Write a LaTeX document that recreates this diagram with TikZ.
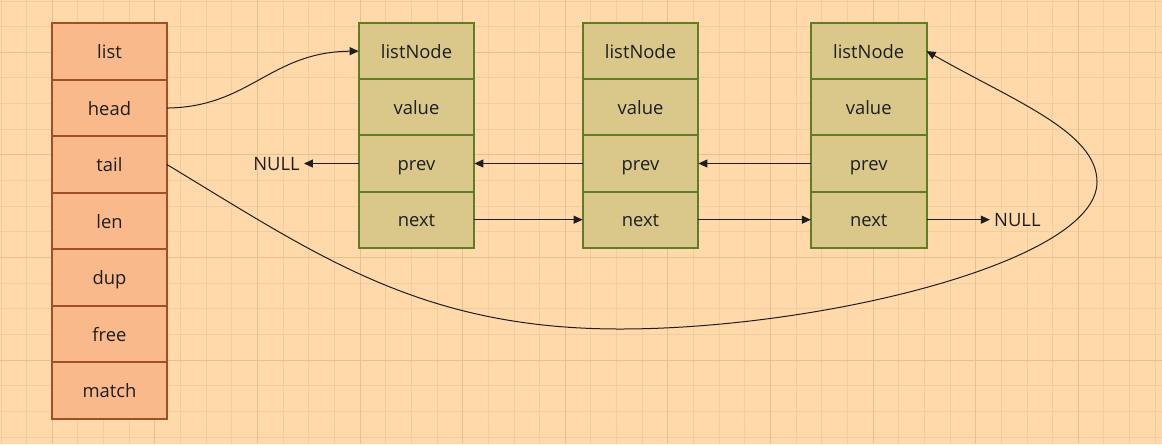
\documentclass[tikz,border=0pt]{standalone}
\usepackage{fontspec}
\setmainfont{Open Sans}
\usetikzlibrary{positioning,arrows.meta}

\definecolor{paper}{RGB}{255,217,169}
\definecolor{gridminor}{RGB}{240,205,160}
\definecolor{gridmajor}{RGB}{228,192,146}
\definecolor{fieldfill}{RGB}{250,185,138}
\definecolor{fieldline}{RGB}{160,80,36}
\definecolor{lnodefill}{RGB}{217,200,138}
\definecolor{lnodeline}{RGB}{96,124,36}
\definecolor{ink}{RGB}{30,30,30}

\begin{document}
\begin{tikzpicture}[x=0.75pt, y=-0.75pt,
                    every node/.style={font=\fontsize{13.8pt}{16pt}\selectfont, text=ink, text height=10.5pt, text depth=0pt},
                    field/.style={fill=fieldfill, minimum width=86.25pt, minimum height=42.4pt, inner sep=0pt, outer sep=0pt},
                    lnode/.style={fill=lnodefill, minimum width=86.8pt, minimum height=42.15pt, inner sep=0pt, outer sep=0pt},
                    frame/.style={line width=1.5pt},
                    link/.style={draw=ink, line width=0.75pt, -{Triangle[length=6.75pt,width=6pt]}}]
% background and grid
\fill[paper] (0,0) rectangle (1162,444);
\useasboundingbox (0,0) rectangle (1162,444);
\foreach \k in {0,...,45}
    \draw[gridminor, line width=0.75pt] ({1+25.65*\k},0) -- ({1+25.65*\k},444);
\foreach \k in {0,...,17}
    \draw[gridminor, line width=0.75pt] (0,{1+25.65*\k}) -- (1162,{1+25.65*\k});
\foreach \k in {2,6,...,42}
    \draw[gridmajor, line width=0.75pt] ({1+25.65*\k},0) -- ({1+25.65*\k},444);
\foreach \k in {2,6,10,14}
    \draw[gridmajor, line width=0.75pt] (0,{1+25.65*\k}) -- (1162,{1+25.65*\k});

% list struct
\node[field] (list) at (109.5,51.5) {list};
\node[field, below=0pt of list] (head) {head};
\node[field, below=0pt of head] (tail) {tail};
\node[field, below=0pt of tail] (len) {len};
\node[field, below=0pt of len] (dup) {dup};
\node[field, below=0pt of dup] (free) {free};
\node[field, below=0pt of free] (match) {match};
\foreach \n in {list,head,tail,len,dup,free,match}
    \draw[frame, fieldline] (\n.south west) rectangle (\n.north east);

% list nodes
\foreach \i/\x in {1/416.5, 2/640.5, 3/868.7}
{
    \node[lnode] (ln\i) at (\x,51.1) {listNode};
    \node[lnode, below=0pt of ln\i] (val\i) {value};
    \node[lnode, below=0pt of val\i] (prev\i) {prev};
    \node[lnode, below=0pt of prev\i] (next\i) {next};
    \foreach \n in {ln\i,val\i,prev\i,next\i}
        \draw[frame, lnodeline] (\n.south west) rectangle (\n.north east);
}

\node[left=41pt of prev1, inner sep=3pt] (nullL) {NULL};
\node[right=47.5pt of next3, inner sep=3pt] (nullR) {NULL};

% pointers
\draw[link] (prev1) -- (nullL);
\draw[link] (prev2) -- (prev1);
\draw[link] (prev3) -- (prev2);
\draw[link] (next1) -- (next2);
\draw[link] (next2) -- (next3);
\draw[link] (next3) -- (nullR);

\draw[link] (head.east) .. controls (250,107) and (270,52) .. (ln1.west);
\coordinate (low) at (620,329);
\coordinate (far) at (1097,182);
\draw[link] (tail.east) .. controls (317,255) and (420,329) .. (low)
                        .. controls (820,329) and (1097,262) .. (far)
                        .. controls (1097,132) and (1014,101) .. (ln3.east);
\end{tikzpicture}
\end{document}
